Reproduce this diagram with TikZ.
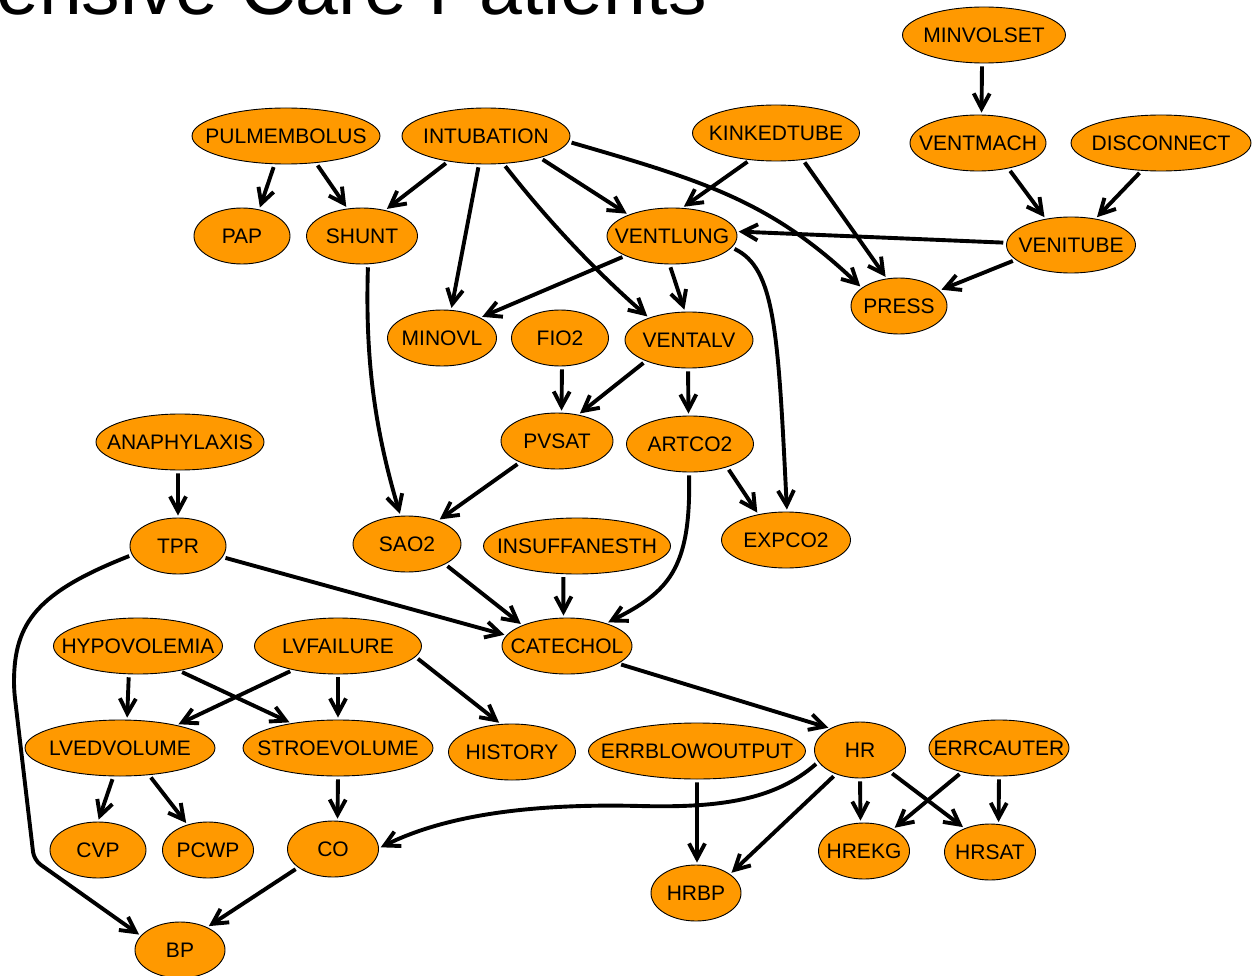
\documentclass[tikz,border=0pt]{standalone}
\usepackage{fontspec}
\setmainfont{Liberation Sans}
\usetikzlibrary{shapes.geometric,arrows.meta}
\definecolor{nodeorange}{RGB}{255,153,0}
\newcommand\lbl[1]{\makebox[0pt]{#1}}
\begin{document}
\begin{tikzpicture}[x=1pt,y=-1pt,
  bn/.style={ellipse, draw=black, line width=0.9pt, fill=nodeorange, inner sep=0pt,
    minimum height=56pt, font=\fontsize{21}{24}\selectfont},
  conn/.style={line width=3.9pt, -{Straight Barb[length=15pt,width=16pt]},
    shorten <=3pt, shorten >=2pt}]
\useasboundingbox (0,0) rectangle (1255,976);
\clip (0,0) rectangle (1255,976);
\node[anchor=base west, inner sep=0pt, font=\fontsize{77}{80}\selectfont] (title) at (-4,15) {ensive Care Patients};
% nodes
\node[bn, minimum width=163pt] (minvolset) at (984,35) {\lbl{MINVOLSET}};
\node[bn, minimum width=188pt] (pulmembolus) at (286,136) {\lbl{PULMEMBOLUS}};
\node[bn, minimum width=168pt] (intubation) at (486,136) {\lbl{INTUBATION}};
\node[bn, minimum width=167pt] (kinkedtube) at (776,133) {\lbl{KINKEDTUBE}};
\node[bn, minimum width=136pt] (ventmach) at (978,143) {\lbl{VENTMACH}};
\node[bn, minimum width=180pt] (disconnect) at (1161,143) {\lbl{DISCONNECT}};
\node[bn, minimum width=96pt] (pap) at (242,236) {\lbl{PAP}};
\node[bn, minimum width=111pt] (shunt) at (362,236) {\lbl{SHUNT}};
\node[bn, minimum width=130pt] (ventlung) at (672,236) {\lbl{VENTLUNG}};
\node[bn, minimum width=129pt] (venitube) at (1071,245) {\lbl{VENITUBE}};
\node[bn, minimum width=96pt] (press) at (899,306) {\lbl{PRESS}};
\node[bn, minimum width=109pt] (minovl) at (442,338) {\lbl{MINOVL}};
\node[bn, minimum width=97pt] (fio2) at (560,338) {\lbl{FIO2}};
\node[bn, minimum width=128pt] (ventalv) at (689,340) {\lbl{VENTALV}};
\node[bn, minimum width=168pt] (anaphylaxis) at (180,442) {\lbl{ANAPHYLAXIS}};
\node[bn, minimum width=112pt] (pvsat) at (557,441) {\lbl{PVSAT}};
\node[bn, minimum width=127pt] (artco2) at (690,444) {\lbl{ARTCO2}};
\node[bn, minimum width=96pt] (tpr) at (178,546) {\lbl{TPR}};
\node[bn, minimum width=108pt] (sao2) at (407,544) {\lbl{SAO2}};
\node[bn, minimum width=187pt] (insuffanesth) at (577,546) {\lbl{INSUFFANESTH}};
\node[bn, minimum width=129pt] (expco2) at (786,540) {\lbl{EXPCO2}};
\node[bn, minimum width=169pt] (hypovolemia) at (138,646) {\lbl{HYPOVOLEMIA}};
\node[bn, minimum width=167pt] (lvfailure) at (338,646) {\lbl{LVFAILURE}};
\node[bn, minimum width=130pt] (catechol) at (567,646) {\lbl{CATECHOL}};
\node[bn, minimum width=190pt] (lvedvolume) at (120,748) {\lbl{LVEDVOLUME}};
\node[bn, minimum width=190pt] (stroevolume) at (338,748) {\lbl{STROEVOLUME}};
\node[bn, minimum width=127pt] (history) at (512,752) {\lbl{HISTORY}};
\node[bn, minimum width=217pt] (errblowoutput) at (697,751) {\lbl{ERRBLOWOUTPUT}};
\node[bn, minimum width=91pt] (hr) at (860,750) {\lbl{HR}};
\node[bn, minimum width=140pt] (errcauter) at (999,748) {\lbl{ERRCAUTER}};
\node[bn, minimum width=96pt] (cvp) at (98,850) {\lbl{CVP}};
\node[bn, minimum width=91pt] (pcwp) at (208,850) {\lbl{PCWP}};
\node[bn, minimum width=91pt] (co) at (333,849) {\lbl{CO}};
\node[bn, minimum width=91pt] (hrekg) at (864,851) {\lbl{HREKG}};
\node[bn, minimum width=91pt] (hrsat) at (990,852) {\lbl{HRSAT}};
\node[bn, minimum width=90pt] (hrbp) at (696,893) {\lbl{HRBP}};
\node[bn, minimum width=90pt] (bp) at (180,950) {\lbl{BP}};
% connectors
\draw[conn] (minvolset.-94) -- (ventmach.83);
\draw[conn] (ventmach.-40) -- (venitube.134);
\draw[conn] (disconnect.-125) -- (venitube.47);
\draw[conn] (venitube.178) -- (ventlung.4);
\draw[conn] (venitube.-165) -- (press.21);
\draw[conn] (kinkedtube.-134) -- (ventlung.70);
\draw[conn] (kinkedtube.-45) -- (press.114);
\draw[conn] (intubation.-146) -- (shunt.48);
\draw[conn] (intubation.-104) -- (minovl.72);
\draw[conn] (intubation.-58) .. controls (545,217) and (591,267) .. (ventalv.151);
\draw[conn] (intubation.-22) -- (ventlung.154);
\draw[conn] (intubation.-4) .. controls (700,180) and (770,200) .. (press.154);
\draw[conn] (pulmembolus.-112) -- (pap.57);
\draw[conn] (pulmembolus.-42) -- (shunt.118);
\draw[conn] (shunt.-78) .. controls (365,360) and (375,430) .. (sao2.103);
\draw[conn] (ventlung.-157) -- (minovl.28);
\draw[conn] (ventlung.-95) -- (ventalv.98);
\draw[conn] (ventlung.-11) .. controls (775,268) and (778,330) .. (expco2.88);
\draw[conn] (ventalv.-154) -- (pvsat.51);
\draw[conn] (ventalv.-92) -- (artco2.93);
\draw[conn] (fio2.-86) -- (pvsat.81);
\draw[conn] (pvsat.-150) -- (sao2.37);
\draw[conn] (artco2.-32) -- (expco2.137);
\draw[conn] (artco2.-92) .. controls (691,570) and (668,592) .. (catechol.30);
\draw[conn] (sao2.-28) -- (catechol.155);
\draw[conn] (insuffanesth.-116) -- (catechol.97);
\draw[conn] (tpr.-14) -- (catechol.170);
\draw[conn] (anaphylaxis.-94) -- (tpr.90);
\draw[conn, rounded corners=8pt] (tpr.-169) .. controls (38,592) and (14,622) .. (14,690) -- (34,860) -- (bp.160);
\draw[conn] (catechol.-19) -- (hr.144);
\draw[conn] (hr.-164) .. controls (775,800) and (720,808) .. (640,806) .. controls (520,803) and (440,818) .. (co.1);
\draw[conn] (hr.-135) -- (hrbp.29);
\draw[conn] (hr.-90) -- (hrekg.97);
\draw[conn] (hr.-36) -- (hrsat.137);
\draw[conn] (errcauter.-147) -- (hrekg.37);
\draw[conn] (errcauter.-90) -- (hrsat.73);
\draw[conn] (errblowoutput.-90) -- (hrbp.88);
\draw[conn] (hypovolemia.-108) -- (lvedvolume.76);
\draw[conn] (hypovolemia.-31) -- (stroevolume.152);
\draw[conn] (lvfailure.-152) -- (lvedvolume.22);
\draw[conn] (lvfailure.-90) -- (stroevolume.90);
\draw[conn] (lvfailure.-8) -- (history.112);
\draw[conn] (lvedvolume.-103) -- (cvp.90);
\draw[conn] (lvedvolume.-43) -- (pcwp.129);
\draw[conn] (stroevolume.-90) -- (co.81);
\draw[conn] (co.-152) -- (bp.40);
\end{tikzpicture}
\end{document}
